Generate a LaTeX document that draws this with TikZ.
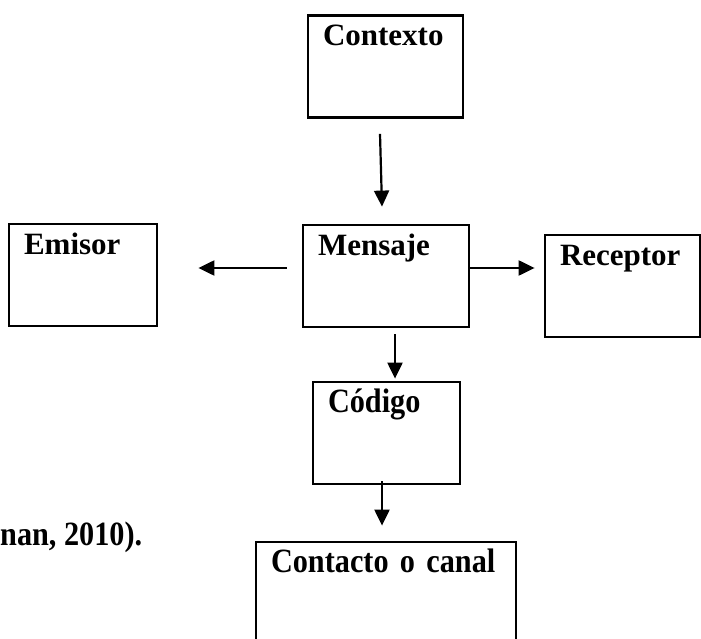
\documentclass[tikz,border=0pt]{standalone}
\usepackage{fontspec}
\setmainfont{Liberation Serif}
\newfontfamily\narrowserif[FakeStretch=0.89]{Liberation Serif}
\usetikzlibrary{arrows.meta}

\begin{document}
\begin{tikzpicture}[x=1pt,y=-1pt,
    box/.style={draw, line width=2.8pt, inner xsep=15pt, inner ysep=9pt,
      text height=21pt, text depth=63pt, align=left,
      font=\fontsize{31pt}{36pt}\selectfont\bfseries},
    narrow/.style={font=\narrowserif\fontsize{34pt}{38pt}\selectfont\bfseries},
    arr/.style={line width=2.2pt, -{Triangle[length=16pt,width=15pt]}}]
    \useasboundingbox (0,0) rectangle (701,639);
    % Top (context)
    \node [box, text width=125pt] (contexto) at (385.5,66.5) {Contexto};
    % Middle row (sender, message, receiver)
    \node [box, text width=118pt] (emisor) at (83,275) {Emisor};
    \node [box, text width=136pt] (mensaje) at (386,276) {Mensaje};
    \node [box, text width=125pt] (receptor) at (622.5,286) {Receptor};
    % Bottom (code, channel)
    \node [box, narrow, text width=117pt] (codigo) at (386.5,433) {Código};
    \node [box, narrow, text width=230pt] (contacto) at (386,593) {Contacto o canal};
    \node [narrow, anchor=base west, inner sep=0pt] (cita) at (0,545) {nan, 2010).};
    \begin{scope}[every path/.style={arr}]
      \draw ([xshift=-5.5pt,yshift=-15pt]contexto.south) -- ([xshift=-4pt,yshift=17pt]mensaje.north);
      \draw ([xshift=-15pt,yshift=8pt]mensaje.west) -- ([xshift=40pt,yshift=7pt]emisor.east);
      \draw ([yshift=8pt]mensaje.east) -- ([xshift=-9pt,yshift=18pt]receptor.west);
      \draw ([xshift=9pt,yshift=-6pt]mensaje.south) -- ([xshift=8.5pt,yshift=2pt]codigo.north);
      \draw ([xshift=-4.5pt,yshift=4pt]codigo.south) -- ([xshift=-4pt,yshift=15pt]contacto.north);
    \end{scope}
\end{tikzpicture}
\end{document}
